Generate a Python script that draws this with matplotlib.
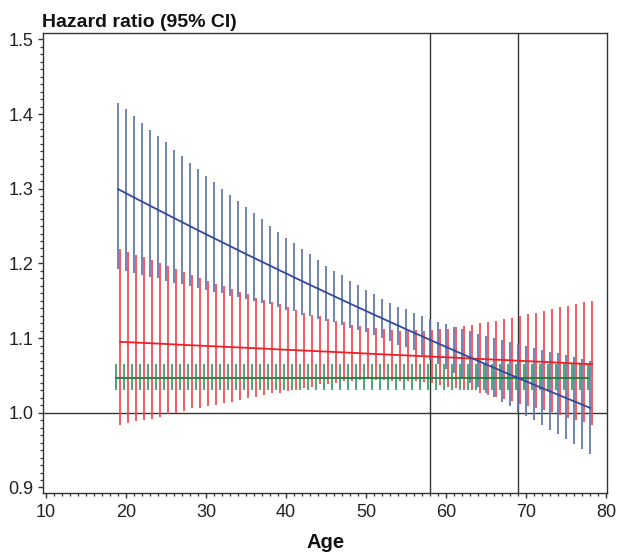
import matplotlib
matplotlib.use("Agg")
import matplotlib.pyplot as plt
from matplotlib.ticker import MultipleLocator, FormatStrFormatter

plt.rcParams['font.family'] = ['Liberation Sans', 'DejaVu Sans']

# ---------------- data ----------------
age = list(range(19, 79))

blue_est = [1.2995, 1.2939, 1.2883, 1.2827, 1.2772, 1.2717, 1.2662, 1.2607, 1.2553, 1.2498,
            1.2444, 1.2390, 1.2337, 1.2284, 1.2231, 1.2178, 1.2125, 1.2073, 1.2021, 1.1969,
            1.1917, 1.1866, 1.1814, 1.1763, 1.1712, 1.1662, 1.1611, 1.1561, 1.1511, 1.1461,
            1.1412, 1.1363, 1.1313, 1.1265, 1.1216, 1.1168, 1.1119, 1.1071, 1.1024, 1.0976,
            1.0929, 1.0881, 1.0834, 1.0788, 1.0741, 1.0695, 1.0648, 1.0602, 1.0556, 1.0511,
            1.0465, 1.0420, 1.0375, 1.0330, 1.0286, 1.0241, 1.0197, 1.0153, 1.0109, 1.0065]
blue_hi = [1.415, 1.407, 1.397, 1.388, 1.379, 1.370, 1.362, 1.352, 1.344, 1.335,
           1.326, 1.317, 1.309, 1.300, 1.292, 1.284, 1.275, 1.267, 1.259, 1.250,
           1.242, 1.234, 1.227, 1.219, 1.212, 1.205, 1.197, 1.190, 1.184, 1.177,
           1.171, 1.164, 1.159, 1.152, 1.147, 1.142, 1.139, 1.133, 1.129, 1.125,
           1.122, 1.119, 1.115, 1.112, 1.109, 1.105, 1.103, 1.100, 1.097, 1.095,
           1.092, 1.090, 1.087, 1.084, 1.082, 1.080, 1.077, 1.075, 1.072, 1.070]
blue_lo = [1.192, 1.190, 1.187, 1.185, 1.182, 1.180, 1.177, 1.174, 1.172, 1.170,
           1.167, 1.165, 1.162, 1.160, 1.157, 1.155, 1.152, 1.150, 1.147, 1.146,
           1.141, 1.138, 1.136, 1.131, 1.129, 1.126, 1.123, 1.121, 1.117, 1.114,
           1.111, 1.108, 1.104, 1.100, 1.096, 1.091, 1.088, 1.084, 1.078, 1.071,
           1.065, 1.058, 1.053, 1.047, 1.040, 1.035, 1.027, 1.021, 1.015, 1.009,
           1.001, 0.996, 0.990, 0.984, 0.977, 0.971, 0.965, 0.958, 0.952, 0.945]

red_est = [1.0950, 1.0945, 1.0940, 1.0935, 1.0930, 1.0925, 1.0920, 1.0914, 1.0909, 1.0904,
           1.0899, 1.0894, 1.0889, 1.0884, 1.0879, 1.0874, 1.0869, 1.0864, 1.0859, 1.0853,
           1.0848, 1.0843, 1.0838, 1.0833, 1.0828, 1.0823, 1.0818, 1.0813, 1.0808, 1.0803,
           1.0798, 1.0792, 1.0787, 1.0782, 1.0777, 1.0772, 1.0767, 1.0762, 1.0757, 1.0752,
           1.0747, 1.0742, 1.0737, 1.0731, 1.0726, 1.0721, 1.0716, 1.0711, 1.0706, 1.0701,
           1.0696, 1.0691, 1.0686, 1.0681, 1.0676, 1.0670, 1.0665, 1.0660, 1.0655, 1.0650]
red_hi = [1.219, 1.215, 1.211, 1.208, 1.204, 1.200, 1.196, 1.192, 1.188, 1.184,
          1.180, 1.177, 1.173, 1.170, 1.166, 1.162, 1.159, 1.154, 1.151, 1.148,
          1.145, 1.142, 1.138, 1.134, 1.131, 1.129, 1.126, 1.123, 1.121, 1.117,
          1.116, 1.114, 1.113, 1.112, 1.111, 1.110, 1.110, 1.111, 1.110, 1.111,
          1.112, 1.112, 1.115, 1.116, 1.117, 1.120, 1.121, 1.123, 1.125, 1.127,
          1.129, 1.132, 1.134, 1.136, 1.139, 1.141, 1.143, 1.146, 1.148, 1.150]
red_lo = [0.984, 0.986, 0.989, 0.990, 0.992, 0.995, 0.998, 1.000, 1.002, 1.006,
          1.007, 1.009, 1.011, 1.013, 1.015, 1.017, 1.020, 1.021, 1.024, 1.026,
          1.027, 1.029, 1.031, 1.033, 1.035, 1.038, 1.039, 1.040, 1.042, 1.043,
          1.044, 1.045, 1.044, 1.044, 1.043, 1.043, 1.042, 1.042, 1.041, 1.040,
          1.037, 1.035, 1.033, 1.031, 1.030, 1.027, 1.024, 1.021, 1.019, 1.016,
          1.012, 1.009, 1.006, 1.004, 1.001, 0.997, 0.993, 0.991, 0.987, 0.984]

green_est = [1.047, 1.047, 1.047, 1.047, 1.047, 1.047, 1.047, 1.047, 1.047, 1.047,
             1.047, 1.047, 1.047, 1.047, 1.047, 1.047, 1.047, 1.047, 1.047, 1.047,
             1.047, 1.047, 1.047, 1.047, 1.047, 1.047, 1.047, 1.047, 1.047, 1.047,
             1.047, 1.047, 1.047, 1.047, 1.047, 1.047, 1.047, 1.047, 1.047, 1.047,
             1.047, 1.047, 1.047, 1.047, 1.047, 1.047, 1.047, 1.047, 1.047, 1.047,
             1.047, 1.047, 1.047, 1.047, 1.047, 1.047, 1.047, 1.047, 1.047, 1.047]
green_hi = [1.065, 1.065, 1.065, 1.065, 1.065, 1.065, 1.065, 1.065, 1.065, 1.065,
            1.065, 1.065, 1.065, 1.065, 1.065, 1.065, 1.065, 1.065, 1.065, 1.065,
            1.065, 1.065, 1.065, 1.065, 1.065, 1.065, 1.065, 1.065, 1.065, 1.065,
            1.065, 1.065, 1.065, 1.065, 1.065, 1.065, 1.065, 1.065, 1.065, 1.065,
            1.065, 1.065, 1.065, 1.065, 1.065, 1.065, 1.065, 1.065, 1.065, 1.065,
            1.065, 1.065, 1.065, 1.065, 1.065, 1.065, 1.065, 1.065, 1.065, 1.065]
green_lo = [1.030, 1.030, 1.030, 1.030, 1.030, 1.030, 1.030, 1.030, 1.030, 1.030,
            1.030, 1.030, 1.030, 1.030, 1.030, 1.030, 1.030, 1.030, 1.030, 1.030,
            1.030, 1.030, 1.030, 1.030, 1.030, 1.030, 1.030, 1.030, 1.030, 1.030,
            1.030, 1.030, 1.030, 1.030, 1.030, 1.030, 1.030, 1.030, 1.030, 1.030,
            1.030, 1.030, 1.030, 1.030, 1.030, 1.030, 1.030, 1.030, 1.030, 1.030,
            1.030, 1.030, 1.030, 1.030, 1.030, 1.030, 1.030, 1.030, 1.030, 1.030]

ref_ages = [58, 69]
ref_hr = 1.0
x_ticks = [10, 20, 30, 40, 50, 60, 70, 80]
y_ticks = [0.9, 1.0, 1.1, 1.2, 1.3, 1.4, 1.5]

# ---------------- figure ----------------
W, H = 617, 553
fig = plt.figure(figsize=(W / 100, H / 100), dpi=100)
left, right, top, bottom = 43.3, 607.0, 33.0, 492.7
ax = fig.add_axes([left / W, 1 - bottom / H, (right - left) / W, (bottom - top) / H])

dark = '#333333'

# reference lines
for xr in ref_ages:
    ax.axvline(xr, color=dark, lw=1.0, zorder=1)
ax.axhline(ref_hr, color=dark, lw=1.0, zorder=1)

series = [
    (green_est, green_lo, green_hi, -0.25, '#3c9a60', '#1d7d3f'),
    (red_est, red_lo, red_hi, 0.25, '#f04a4c', '#e8222a'),
    (blue_est, blue_lo, blue_hi, 0.0, '#5a74ba', '#2e4a9c'),
]
for est, lo, hi, off, cbar, cline in series:
    xs = [a + off for a in age]
    ax.vlines(xs, lo, hi, colors=cbar, lw=1.25, zorder=2)
for est, lo, hi, off, cbar, cline in series:
    xs = [a + off for a in age]
    ax.plot(xs, est, color=cline, lw=1.3, zorder=3)

ax.set_xlim(9.66, 80.1)
ax.set_ylim(0.893, 1.5085)

ax.set_xticks(x_ticks)
ax.set_yticks(y_ticks)
ax.xaxis.set_minor_locator(MultipleLocator(1))
ax.yaxis.set_minor_locator(MultipleLocator(0.01))
ax.yaxis.set_major_formatter(FormatStrFormatter('%.1f'))

for s in ax.spines.values():
    s.set_color(dark)
    s.set_linewidth(1.0)

ax.tick_params(which='major', direction='out', length=3.8, width=1.0, color=dark,
               labelsize=13, labelcolor='#222222')
ax.tick_params(which='minor', direction='out', length=2.2, width=0.9, color=dark)
ax.tick_params(axis='y', which='major', pad=3)
ax.tick_params(axis='x', which='major', pad=4.5)
ax.tick_params(top=False, right=False, which='both')

fig.text(41.5 / W, 1 - 26.7 / H, 'Hazard ratio (95% CI)', fontsize=14,
         fontweight='bold', ha='left', va='baseline', color='#111111')
fig.text((left + right) / 2 / W, 1 - 548 / H, 'Age', fontsize=14.5,
         fontweight='bold', ha='center', va='baseline', color='#111111')

fig.savefig('out.png', dpi=100)
